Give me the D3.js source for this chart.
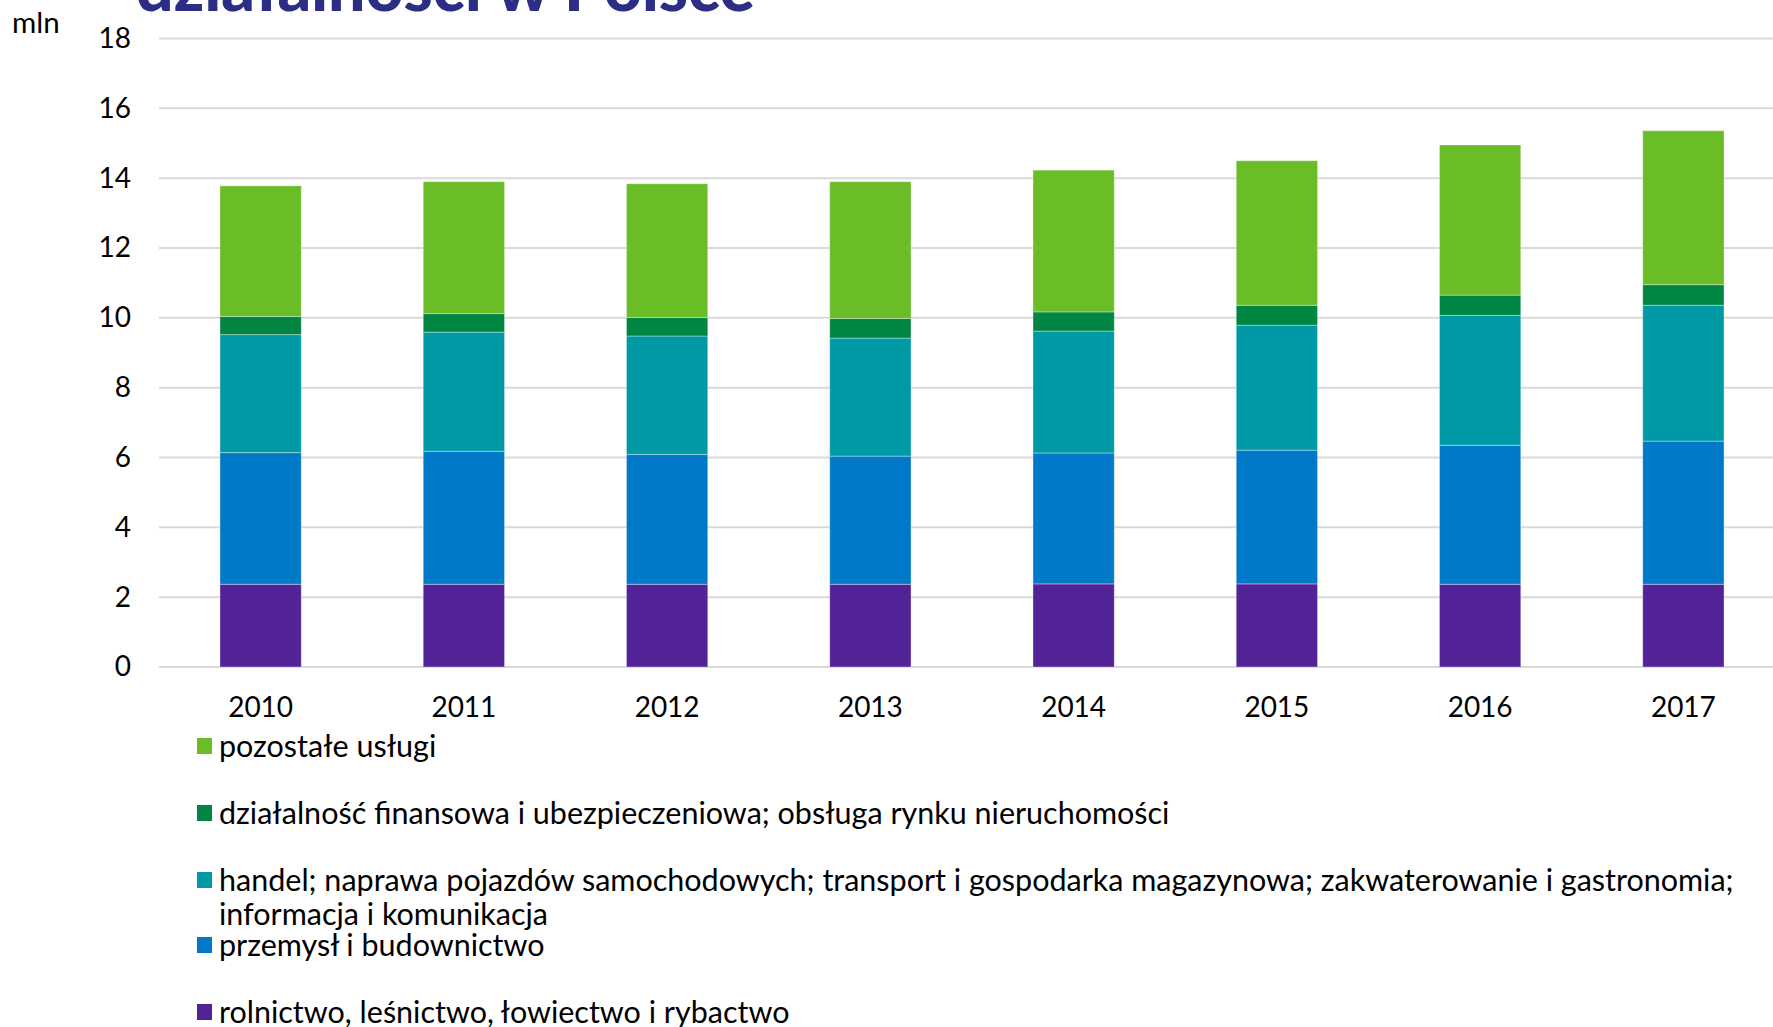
<!DOCTYPE html>
<html>
<head>
<meta charset="utf-8">
<script src="https://cdnjs.cloudflare.com/ajax/libs/d3/7.8.5/d3.min.js"></script>
<style>
  html, body { margin: 0; padding: 0; background: #fff; overflow: hidden; }
  svg { display: block; font-family: Lato, "Noto Sans", sans-serif; }
</style>
</head>
<body>
<svg id="chart" width="1773" height="1027"></svg>
<script>
// lata
const years = ["2010", "2011", "2012", "2013", "2014", "2015", "2016", "2017"];

// wartości w mln (od dołu stosu)
const rolnictwo = [2.37, 2.37, 2.37, 2.37, 2.38, 2.38, 2.37, 2.37];
const przemysl  = [3.77, 3.81, 3.72, 3.67, 3.75, 3.83, 3.98, 4.10];
const handel    = [3.38, 3.41, 3.39, 3.38, 3.49, 3.58, 3.72, 3.89];
const finanse   = [0.52, 0.53, 0.53, 0.56, 0.55, 0.57, 0.58, 0.59];
const pozostale = [3.74, 3.78, 3.83, 3.92, 4.06, 4.14, 4.30, 4.41];

const yTicks = [0, 2, 4, 6, 8, 10, 12, 14, 16, 18];

const seriesKeys = ["rolnictwo", "przemysl", "handel", "finanse", "pozostale"];
const seriesColors = ["#522297", "#0079c8", "#009aa6", "#008542", "#6abd27"];
// legenda: kolejność od góry
const legendItems = [
    { key: "pozostale", lines: ["pozostałe usługi"] },
    { key: "finanse", lines: ["działalność finansowa i ubezpieczeniowa; obsługa rynku nieruchomości"] },
    { key: "handel", lines: ["handel; naprawa pojazdów samochodowych; transport i gospodarka magazynowa; zakwaterowanie i gastronomia;", "informacja i komunikacja"] },
    { key: "przemysl", lines: ["przemysł i budownictwo"] },
    { key: "rolnictwo", lines: ["rolnictwo, leśnictwo, łowiectwo i rybactwo"] }
];

const table = years.map((y, i) => ({
    year: y, rolnictwo: rolnictwo[i], przemysl: przemysl[i], handel: handel[i],
    finanse: finanse[i], pozostale: pozostale[i]
}));

const svg = d3.select("#chart");
const color = d3.scaleOrdinal().domain(seriesKeys).range(seriesColors);

const x = d3.scaleBand().domain(years).range([159, 1785]).paddingInner(0.6).paddingOuter(0.3);
const y = d3.scaleLinear().domain([0, 18]).range([667, 38.5]);

// tytuł (ucięty u góry)
svg.append("text").attr("x", 136).attr("y", 11)
    .style("font-size", "66px").style("font-weight", 900).attr("fill", "#2c2d84")
    .text("działalności w Polsce");

// siatka
svg.append("g").selectAll("line").data(yTicks).join("line")
    .attr("x1", 159).attr("x2", 1773)
    .attr("y1", d => y(d)).attr("y2", d => y(d))
    .attr("stroke", "#d9d9d9").attr("stroke-width", 2);

// oś Y
const yAxis = svg.append("g").attr("transform", "translate(131,0)")
    .call(d3.axisLeft(y).tickValues(yTicks).tickSize(0).tickPadding(0))
    .attr("font-family", null).attr("font-size", null);
yAxis.select(".domain").remove();
yAxis.selectAll("text").style("font-size", "28px").attr("fill", "#000");

svg.append("text").attr("x", 12).attr("y", 33).style("font-size", "29.5px").attr("fill", "#000").text("mln");

// oś X
const xAxis = svg.append("g").attr("transform", "translate(0,690)")
    .call(d3.axisBottom(x).tickSize(0).tickPadding(0))
    .attr("font-family", null).attr("font-size", null);
xAxis.select(".domain").remove();
xAxis.selectAll("text").style("font-size", "28px").attr("fill", "#000").attr("dy", "0.95em");

// słupki
const stacked = d3.stack().keys(seriesKeys)(table);
svg.append("g").selectAll("g").data(stacked).join("g")
    .attr("fill", d => color(d.key))
    .selectAll("rect").data(d => d).join("rect")
    .attr("x", d => x(d.data.year)).attr("width", x.bandwidth())
    .attr("y", d => y(d[1])).attr("height", d => y(d[0]) - y(d[1]))
    .attr("stroke", "#ffffff").attr("stroke-opacity", 0.35).attr("stroke-width", 1);

// legenda
const legendY = [746, 813, 880, 945, 1012];
const lg = svg.append("g").selectAll("g").data(legendItems).join("g")
    .attr("transform", (d, i) => `translate(197,${legendY[i]})`);
lg.append("rect").attr("x", 0).attr("y", -8).attr("width", 15).attr("height", 16)
    .attr("fill", d => color(d.key));
lg.append("text").style("font-size", "30.5px").attr("fill", "#000")
    .selectAll("tspan").data(d => d.lines).join("tspan")
    .attr("x", 22).attr("dy", (d, i) => i === 0 ? "0.35em" : "34px").text(d => d);
</script>
</body>
</html>
